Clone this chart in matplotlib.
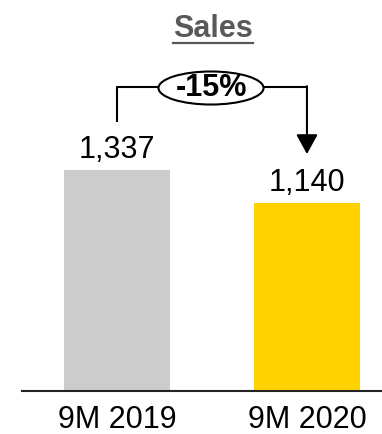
import matplotlib.pyplot as plt
from matplotlib.patches import Ellipse
from matplotlib.lines import Line2D

# Datos del gráfico
categorias = ["9M 2019", "9M 2020"]
ventas = [1337, 1140]
colores = ["#CCCCCC", "#FFD200"]
titulo = "Sales"

plt.rcParams['font.family'] = ['Liberation Sans', 'DejaVu Sans']
tam = 22

fig = plt.figure(figsize=(3.82, 4.34), dpi=100)
ax = fig.add_axes([22 / 382, 43 / 434, 360 / 382, 391 / 434])

x = list(range(len(categorias)))
ax.bar(x, ventas, width=0.558, color=colores, zorder=2)
ax.set_xlim(-0.5, 1.395)
ax.set_ylim(0, 2368)

# Etiquetas de valor
for xi, v in zip(x, ventas):
    ax.annotate(f"{v:,}", (xi, v), xytext=(0, 8.6), textcoords="offset points",
                ha="center", va="baseline", fontsize=tam, color="black")

# Ejes
for s in ["top", "right", "left"]:
    ax.spines[s].set_visible(False)
ax.spines["bottom"].set_linewidth(1.5)
ax.spines["bottom"].set_color("#222222")
ax.set_yticks([])
ax.set_xticks(x)
ax.set_xticklabels(categorias, fontsize=tam)
ax.tick_params(axis="x", length=0, pad=10)

# Corchete con la variación
cambio = (ventas[1] / ventas[0] - 1) * 100
arriba = max(ventas) + 504
ax.plot([x[0], x[0], x[1]], [ventas[0] + 292, arriba, arriba],
        color="black", lw=1.5, zorder=3, solid_capstyle="butt")
ax.annotate("", xy=(x[1], ventas[1] + 295), xytext=(x[1], arriba + 5),
            arrowprops=dict(arrowstyle="-|>,head_length=0.6,head_width=0.33",
                            mutation_scale=20, color="black", lw=1.5,
                            shrinkA=0, shrinkB=0), zorder=3)
ax.add_patch(Ellipse((0.495, arriba - 6), 0.553, 200, facecolor="white",
                     edgecolor="black", lw=1.5, zorder=4))
ax.text(0.495, arriba - 6, f"{cambio:.0f}%", ha="center", va="center",
        fontsize=tam, fontweight="bold", zorder=5)

# Título subrayado
t = fig.text(213 / 382, 1 - 37 / 434, titulo, ha="center", va="baseline",
             fontsize=tam, fontweight="bold", color="#595959")
fig.canvas.draw()
bb = t.get_window_extent().transformed(fig.transFigure.inverted())
yl = 1 - 42.5 / 434
fig.add_artist(Line2D([bb.x0, bb.x1], [yl, yl], color="#595959", lw=1.6,
                      transform=fig.transFigure))

fig.savefig("out.png", dpi=100)
